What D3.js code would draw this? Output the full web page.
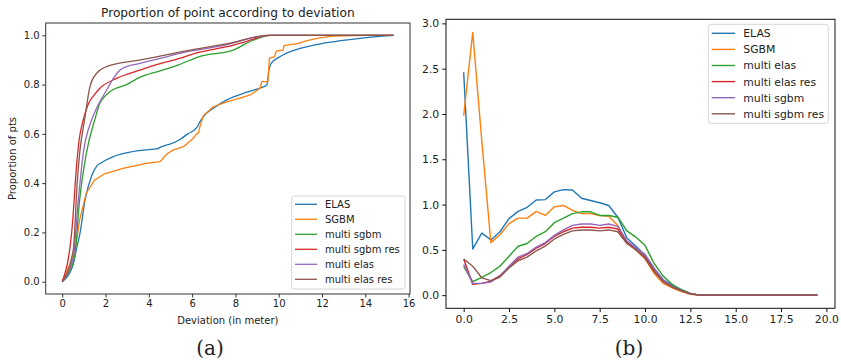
<!DOCTYPE html>
<html><head><meta charset="utf-8">
<script src="https://cdn.jsdelivr.net/npm/d3@7"></script>
<style>body{margin:0;background:#fff}svg{display:block}text{font-family:"DejaVu Sans",sans-serif;fill:#222}</style>
</head><body><svg id="c" width="841" height="361"></svg>
<script>
// ---------- Panel (a): cumulative proportion vs deviation ----------
const seriesA = ["ELAS", "SGBM", "multi sgbm", "multi sgbm res", "multi elas", "multi elas res"];
const aELAS = [[0,0],[0.51,0.072],[0.65,0.13],[0.82,0.197],[1.05,0.33],[1.36,0.43],[1.6,0.47],[1.75,0.48],[2.36,0.508],[3.13,0.526],[4.0,0.536],[4.36,0.539],[4.6,0.548],[4.83,0.555],[5.1,0.562],[5.45,0.578],[5.8,0.6],[6.21,0.625],[6.4,0.655],[6.6,0.678],[6.98,0.704],[7.6,0.738],[8.52,0.769],[9.1,0.785],[9.45,0.798],[9.55,0.86],[9.65,0.886],[10.07,0.914],[10.99,0.947],[12.22,0.97],[13.76,0.988],[15.3,1.0]];
const aSGBM = [[0,0],[0.57,0.116],[0.8,0.25],[1.11,0.36],[1.5,0.413],[1.96,0.438],[2.8,0.46],[3.88,0.48],[4.5,0.487],[4.6,0.495],[4.72,0.508],[4.88,0.521],[5.13,0.535],[5.6,0.548],[5.98,0.576],[6.2,0.598],[6.3,0.605],[6.36,0.63],[6.52,0.674],[6.98,0.71],[7.6,0.73],[8.21,0.745],[8.68,0.758],[9.14,0.785],[9.22,0.812],[9.5,0.812],[9.57,0.907],[9.8,0.913],[9.9,0.937],[10.2,0.94],[10.24,0.958],[10.9,0.967],[11.3,0.978],[11.9,0.99],[12.5,0.997],[14.0,1.0],[15.3,1.0]];
const aMultiSgbm = [[0,0],[0.57,0.1],[0.8,0.33],[1.11,0.52],[1.5,0.657],[1.74,0.725],[2.0,0.755],[2.21,0.772],[2.97,0.8],[3.6,0.83],[4.5,0.855],[5.37,0.88],[6.37,0.915],[7.9,0.94],[8.5,0.967],[9.3,0.995],[9.6,1.0],[15.3,1.0]];
const aMultiSgbmRes = [[0,0],[0.46,0.224],[0.66,0.47],[0.78,0.576],[0.97,0.657],[1.2,0.72],[1.5,0.76],[1.74,0.785],[2.51,0.825],[3.59,0.859],[4.52,0.885],[5.37,0.905],[6.06,0.925],[7.91,0.96],[8.68,0.98],[9.3,0.997],[9.6,1.0],[15.3,1.0]];
const aMultiElas = [[0,0],[0.51,0.1],[0.74,0.33],[0.97,0.52],[1.36,0.657],[1.59,0.705],[2.05,0.778],[2.4,0.83],[2.67,0.859],[2.97,0.873],[3.59,0.886],[4.52,0.906],[5.37,0.926],[7.75,0.965],[8.37,0.981],[9.3,0.998],[9.5,1.0],[15.3,1.0]];
const aMultiElasRes = [[0,0],[0.51,0.13],[0.69,0.4],[0.82,0.535],[1.03,0.657],[1.28,0.792],[1.59,0.846],[2.05,0.873],[3.6,0.9],[4.52,0.916],[5.37,0.931],[7.75,0.968],[9.45,1.0],[15.3,1.0]];
const xTicksA = [0, 2, 4, 6, 8, 10, 12, 14, 16];
const yTicksA = [0.0, 0.2, 0.4, 0.6, 0.8, 1.0];

// ---------- Panel (b): per-bin values ----------
const seriesB = ["ELAS", "SGBM", "multi elas", "multi elas res", "multi sgbm", "multi sgbm res"];
const binsB = [0,0.5,1,1.5,2,2.5,3,3.5,4,4.5,5,5.5,6,6.5,7,7.5,8,8.5,9,9.5,10,10.5,11,11.5,12,12.5,13,13.5,14,14.5,15,15.5,16,16.5,17,17.5,18,18.5,19,19.5];
const bELAS = [2.46,0.51,0.685,0.61,0.70,0.845,0.925,0.97,1.05,1.055,1.14,1.165,1.16,1.07,1.045,1.02,0.99,0.86,0.63,0.54,0.44,0.29,0.17,0.11,0.06,0.02,0,0,0,0,0,0,0,0,0,0,0,0,0,0];
const bSGBM = [1.98,2.90,1.70,0.58,0.667,0.79,0.85,0.85,0.925,0.88,0.975,0.99,0.935,0.90,0.90,0.88,0.87,0.77,0.58,0.50,0.40,0.24,0.13,0.08,0.04,0.01,0,0,0,0,0,0,0,0,0,0,0,0,0,0];
const bMultiElas = [0.315,0.15,0.196,0.25,0.32,0.43,0.54,0.57,0.65,0.70,0.80,0.85,0.90,0.92,0.92,0.88,0.88,0.86,0.71,0.64,0.55,0.35,0.21,0.12,0.06,0.02,0,0,0,0,0,0,0,0,0,0,0,0,0,0];
const bMultiElasRes = [0.40,0.12,0.13,0.155,0.215,0.31,0.40,0.45,0.52,0.57,0.65,0.70,0.74,0.75,0.75,0.74,0.75,0.73,0.58,0.51,0.42,0.27,0.15,0.09,0.05,0.015,0,0,0,0,0,0,0,0,0,0,0,0,0,0];
const bMultiSgbm = [0.34,0.13,0.13,0.145,0.21,0.32,0.42,0.46,0.53,0.58,0.66,0.72,0.77,0.785,0.785,0.77,0.785,0.76,0.60,0.52,0.45,0.30,0.17,0.10,0.05,0.015,0,0,0,0,0,0,0,0,0,0,0,0,0,0];
const bMultiSgbmRes = [0.40,0.32,0.19,0.16,0.20,0.30,0.38,0.42,0.49,0.54,0.62,0.67,0.71,0.72,0.72,0.71,0.72,0.70,0.57,0.50,0.41,0.26,0.15,0.09,0.05,0.015,0,0,0,0,0,0,0,0,0,0,0,0,0,0];
const xTicksB = [0, 2.5, 5, 7.5, 10, 12.5, 15, 17.5, 20];
const yTicksB = [0, 0.5, 1, 1.5, 2, 2.5, 3];

const colors = ["#1f77b4", "#ff7f0e", "#2ca02c", "#d62728", "#9467bd", "#8c564b"];

const svg = d3.select("#c");

// ===== Panel (a) =====
(function(){
  const L = 45.7, R = 410, T = 23, B = 294, fs = 10;
  const x = d3.scaleLinear().domain([-0.765, 16.065]).range([L, R]);
  const y = d3.scaleLinear().domain([-0.05, 1.05]).range([B, T]);
  const g = svg.append("g");
  const data = [aELAS, aSGBM, aMultiSgbm, aMultiSgbmRes, aMultiElas, aMultiElasRes];
  data.forEach((d, i) => {
    const line = d3.line().x(p => x(p[0])).y(p => y(p[1]))
      .curve(i === 1 ? d3.curveLinear : d3.curveMonotoneX);
    g.append("path").attr("d", line(d)).attr("fill", "none")
      .attr("stroke", colors[i]).attr("stroke-width", 1.3).attr("stroke-linejoin", "round");
  });
  const xa = g.append("g").attr("transform", `translate(0,${B})`)
    .call(d3.axisBottom(x).tickValues(xTicksA).tickFormat(d3.format("d")).tickSize(3.5).tickPadding(2.5));
  const ya = g.append("g").attr("transform", `translate(${L},0)`)
    .call(d3.axisLeft(y).tickValues(yTicksA).tickFormat(d3.format(".1f")).tickSize(3.5).tickPadding(2.5));
  [xa, ya].forEach(a => {
    a.select(".domain").remove();
    a.selectAll("line").attr("stroke", "#333");
    a.selectAll("text").attr("font-size", fs).attr("font-family", "DejaVu Sans").attr("fill", "#222");
  });
  g.append("rect").attr("x", L).attr("y", T).attr("width", R - L).attr("height", B - T)
    .attr("fill", "none").attr("stroke", "#333").attr("stroke-width", 1);
  g.append("text").attr("x", (L + R) / 2).attr("y", 17).attr("text-anchor", "middle")
    .attr("font-size", 12.2).text("Proportion of point according to deviation");
  g.append("text").attr("x", (L + R) / 2).attr("y", 324).attr("text-anchor", "middle")
    .attr("font-size", fs).text("Deviation (in meter)");
  g.append("text").attr("transform", `translate(16,${(T + B) / 2}) rotate(-90)`).attr("text-anchor", "middle")
    .attr("font-size", fs).text("Proportion of pts");
  // legend
  const lg = g.append("g");
  lg.append("rect").attr("x", 291.7).attr("y", 196).attr("width", 113.3).attr("height", 93).attr("rx", 2.5)
    .attr("fill", "#fff").attr("fill-opacity", 0.8).attr("stroke", "#ccc").attr("stroke-width", 0.8);
  seriesA.forEach((s, i) => {
    const yy = 204.3 + i * 15;
    lg.append("line").attr("x1", 295).attr("x2", 317).attr("y1", yy).attr("y2", yy)
      .attr("stroke", colors[i]).attr("stroke-width", 1.3);
    lg.append("text").attr("x", 325).attr("y", yy + 3.6).attr("font-size", fs).text(s);
  });
  g.append("text").attr("x", 210).attr("y", 355).attr("text-anchor", "middle")
    .attr("font-family", "DejaVu Serif").style("font-family", "'DejaVu Serif', serif").attr("font-size", 20).text("(a)");
})();

// ===== Panel (b) =====
(function(){
  const L = 446, R = 835, T = 19.3, B = 308.3, fs = 10.8;
  const x = d3.scaleLinear().domain([-0.975, 20.475]).range([L, R]);
  const y = d3.scaleLinear().domain([-0.145, 3.045]).range([B, T]);
  const g = svg.append("g");
  const data = [bELAS, bSGBM, bMultiElas, bMultiElasRes, bMultiSgbm, bMultiSgbmRes];
  data.forEach((vals, i) => {
    const line = d3.line().x((v, k) => x(binsB[k])).y(v => y(v));
    g.append("path").attr("d", line(vals)).attr("fill", "none")
      .attr("stroke", colors[i]).attr("stroke-width", 1.4).attr("stroke-linejoin", "round");
  });
  const xa = g.append("g").attr("transform", `translate(0,${B})`)
    .call(d3.axisBottom(x).tickValues(xTicksB).tickFormat(d3.format(".1f")).tickSize(3.8).tickPadding(3));
  const ya = g.append("g").attr("transform", `translate(${L},0)`)
    .call(d3.axisLeft(y).tickValues(yTicksB).tickFormat(d3.format(".1f")).tickSize(3.8).tickPadding(3));
  [xa, ya].forEach(a => {
    a.select(".domain").remove();
    a.selectAll("line").attr("stroke", "#111");
    a.selectAll("text").attr("font-size", fs).attr("font-family", "DejaVu Sans").attr("fill", "#222");
  });
  g.append("rect").attr("x", L).attr("y", T).attr("width", R - L).attr("height", B - T)
    .attr("fill", "none").attr("stroke", "#111").attr("stroke-width", 1);
  const lg = g.append("g");
  lg.append("rect").attr("x", 708.3).attr("y", 24.3).attr("width", 120).attr("height", 99).attr("rx", 2.5)
    .attr("fill", "#fff").attr("fill-opacity", 0.8).attr("stroke", "#ccc").attr("stroke-width", 0.8);
  seriesB.forEach((s, i) => {
    const yy = 33.3 + i * 16.1;
    lg.append("line").attr("x1", 711.7).attr("x2", 735).attr("y1", yy).attr("y2", yy)
      .attr("stroke", colors[i]).attr("stroke-width", 1.4);
    lg.append("text").attr("x", 743.3).attr("y", yy + 3.9).attr("font-size", fs).text(s);
  });
  g.append("text").attr("x", 629).attr("y", 355).attr("text-anchor", "middle")
    .style("font-family", "'DejaVu Serif', serif").attr("font-size", 20).text("(b)");
})();
</script></body></html>
